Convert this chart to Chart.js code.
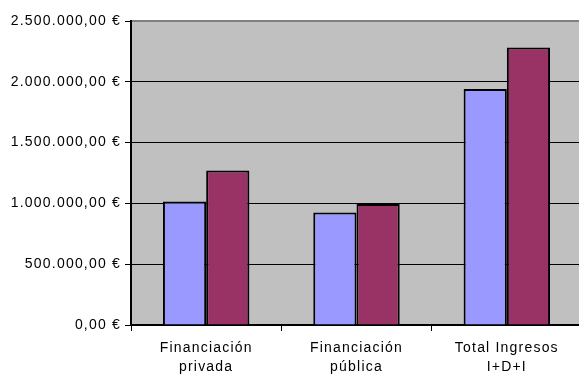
<!DOCTYPE html>
<html>
<head>
<meta charset="utf-8">
<script src="https://cdn.jsdelivr.net/npm/chart.js@4/dist/chart.umd.min.js"></script>
<style>
  html, body { margin: 0; padding: 0; background: #fff; overflow: hidden; }
  #wrap { width: 584px; height: 376px; }
</style>
</head>
<body>
<div id="wrap"><canvas id="chart"></canvas></div>
<script>
// datos
var categorias = [['Financiación', 'privada'], ['Financiación', 'pública'], ['Total Ingresos', 'I+D+I']];
var serie1 = [1015000, 925000, 1940000];
var serie2 = [1270000, 995000, 2283000];
var ejeMax = 2500000;
var ejePaso = 500000;

function euros(v) {
	var partes = v.toFixed(2).split('.');
	var entero = partes[0].replace(/\B(?=(\d{3})+(?!\d))/g, '.');
	return entero + ',' + partes[1] + ' €';
}

var fondo = {
	id: 'fondo',
	beforeDraw: function(chart) {
		var a = chart.chartArea, ctx = chart.ctx;
		ctx.letterSpacing = '1.2px';
		ctx.save();
		ctx.fillStyle = '#c0c0c0';
		ctx.fillRect(a.left, a.top, a.right - a.left, a.bottom - a.top);
		ctx.strokeStyle = '#808080';
		ctx.lineWidth = 2;
		ctx.beginPath();
		ctx.moveTo(a.left, a.top);
		ctx.lineTo(a.right, a.top);
		ctx.stroke();
		ctx.restore();
	}
};

var letra = { family: 'Liberation Sans, Arial', size: 14, lineHeight: 1.4 };

var ctx = document.getElementById('chart');
var myChart = new Chart(ctx, {
	type: 'bar',
	data: {
		labels: categorias,
		datasets: [
			{
				label: 'Serie 1',
				data: serie1,
				backgroundColor: '#9999ff',
				borderColor: '#000000',
				borderWidth: 2,
				borderSkipped: 'bottom'
			},
			{
				label: 'Serie 2',
				data: serie2,
				backgroundColor: '#993366',
				borderColor: '#000000',
				borderWidth: 2,
				borderSkipped: 'bottom'
			}
		]
	},
	options: {
		responsive: true,
		maintainAspectRatio: false,
		animation: false,
		layout: { padding: { top: 21, right: 2, left: 0, bottom: 0 } },
		plugins: {
			legend: { display: false },
			tooltip: { enabled: false }
		},
		datasets: {
			bar: { categoryPercentage: 0.575, barPercentage: 1.0 }
		},
		scales: {
			x: {
				afterFit: function(scale) { scale.height = 51; },
				grid: {
					display: true,
					drawOnChartArea: false,
					drawTicks: true,
					tickLength: 6,
					color: '#000000',
					offset: true
				},
				border: { display: true, color: '#000000', width: 2 },
				ticks: {
					color: '#000000',
					padding: 7,
					maxRotation: 0,
					font: letra
				}
			},
			y: {
				min: 0,
				max: ejeMax,
				afterFit: function(scale) { scale.width = 131; },
				grid: {
					color: function(c) { return c.index === 5 ? 'rgba(0,0,0,0)' : '#000000'; },
					tickColor: '#000000',
					tickLength: 6,
					lineWidth: 1
				},
				border: { display: true, color: '#000000', width: 2 },
				ticks: {
					stepSize: ejePaso,
					color: '#000000',
					padding: 4,
					font: letra,
					callback: function(v) { return euros(v); }
				}
			}
		}
	},
	plugins: [fondo]
});
</script>
</body>
</html>
